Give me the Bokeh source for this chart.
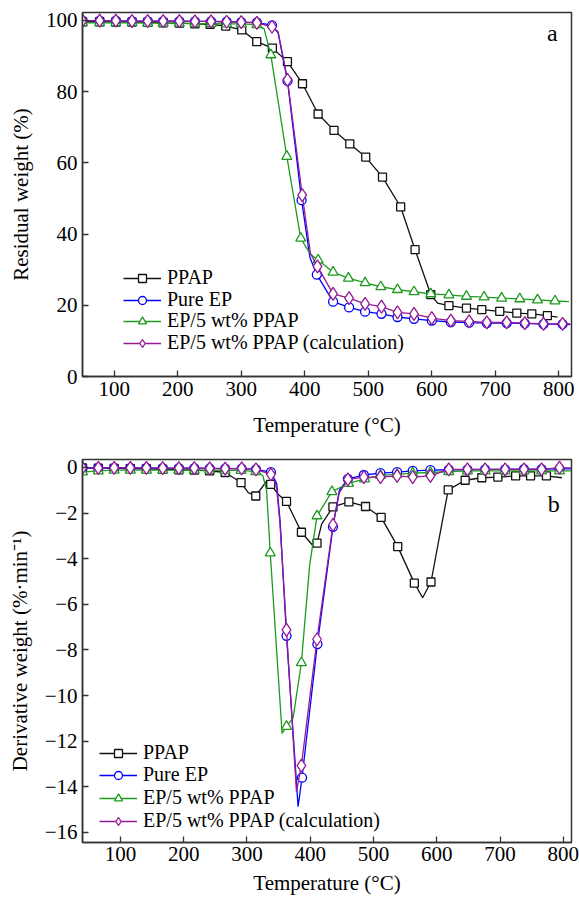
import numpy as np
from bokeh.plotting import figure
from bokeh.models import Range1d, FixedTicker, Legend, LegendItem, Label, CustomJSTickFormatter
from bokeh.layouts import column
from bokeh.embed import file_html
from bokeh.resources import INLINE

# ---------------- data: TGA (panel a) ----------------
tga_ppap_x = [50, 77, 102.5, 128, 152.6, 177, 202.5, 227, 251, 275.6, 300.8, 324.4, 349, 372.7, 396.4, 421, 446,
              470.9, 496, 522.4, 551, 573.7, 598.4, 627, 654.6, 678.7, 707, 733.9, 757.5, 782]
tga_ppap_y = [99.6, 99.6, 99.5, 99.5, 99.4, 99.3, 99.2, 99.0, 98.9, 98.4, 97.3, 94.0, 92.2, 88.4, 82.2, 73.7, 69.1,
              65.3, 61.6, 56.0, 47.6, 35.6, 23.0, 19.9, 19.2, 18.8, 18.3, 17.8, 17.6, 17.1]
tga_ppap_extra_x = [609, 798]
tga_ppap_extra_y = [20.6, 16.7]

tga_pure_x = [50, 77, 102.5, 128, 152.6, 177, 202.5, 227, 252.5, 277, 300, 324.6, 348.4, 372.8, 395, 419, 444.6,
              469.8, 495, 520.8, 546, 572, 600, 630, 658.8, 686.7, 718, 746.5, 775.9, 806]
tga_pure_y = [99.9, 99.9, 99.9, 99.8, 99.8, 99.8, 99.8, 99.7, 99.7, 99.6, 99.5, 99.4, 98.6, 83.0, 49.5, 28.6, 21.0,
              19.4, 18.2, 17.6, 16.7, 16.2, 15.7, 15.3, 15.1, 15.0, 15.0, 14.9, 14.7, 14.7]
tga_pure_extra_x = [358, 408, 818]
tga_pure_extra_y = [96.5, 33.5, 14.6]

tga_ep5_x = [50, 77, 102.5, 128, 152.6, 177, 202.5, 227, 252.5, 277, 300, 324.6, 346.5, 371.7, 393.7, 421, 444.6,
             468.8, 495, 519.7, 546, 572, 598.4, 627, 654.6, 682.4, 710, 738.6, 766.5, 794]
tga_ep5_y = [99.3, 99.3, 99.3, 99.3, 99.2, 99.2, 99.2, 99.1, 99.1, 99.0, 99.0, 98.8, 90.3, 61.8, 38.8, 32.7, 29.3,
             27.6, 26.3, 25.2, 24.4, 23.8, 23.2, 22.9, 22.5, 22.3, 22.0, 21.8, 21.5, 21.2]
tga_ep5_extra_x = [336, 409, 816]
tga_ep5_extra_y = [97.6, 34.3, 21.0]

tga_calc_x = [50, 77, 102.5, 128, 152.6, 177, 202.5, 227, 252.5, 277, 300, 324.6, 348.4, 372.8, 396, 420, 444.6,
              469.8, 495, 520.8, 546, 572, 600, 630, 658.8, 686.7, 718, 746.5, 775.9, 806]
tga_calc_y = [99.9, 99.9, 99.9, 99.8, 99.8, 99.8, 99.8, 99.7, 99.7, 99.6, 99.5, 99.3, 98.2, 83.3, 50.9, 30.9, 23.2,
              22.0, 20.4, 19.6, 18.0, 17.6, 16.4, 15.7, 15.5, 15.2, 15.2, 15.0, 14.8, 14.8]
tga_calc_extra_x = [358, 409, 818]
tga_calc_extra_y = [96.8, 34.5, 14.8]

# ---------------- data: DTG (panel b) ----------------
dtg_ppap_x = [40, 65, 90, 115.6, 141, 166.8, 192.3, 216.7, 241, 265.5, 290.6, 313.9, 337.5, 362.5, 386.1, 410.7,
              435.9, 461.1, 487.4, 512.1, 538.3, 564.6, 590.9, 618.1, 644.9, 671.2, 696.6, 724.7, 748.3, 773.4]
dtg_ppap_y = [-0.02, -0.03, -0.04, -0.05, -0.06, -0.08, -0.1, -0.12, -0.15, -0.22, -0.66, -1.25, -0.74, -1.49,
              -2.84, -3.32, -1.73, -1.51, -1.71, -2.19, -3.47, -5.07, -5.02, -0.98, -0.56, -0.45, -0.42, -0.37,
              -0.37, -0.37]
dtg_ppap_extra_x = [302, 331, 350, 404.4, 418, 577.7, 798]
dtg_ppap_extra_y = [-1.1, -0.6, -1.2, -3.43, -2.48, -5.71, -0.45]

dtg_pure_x = [40, 65, 90, 115.6, 141, 166.8, 192.3, 216.7, 241, 265.5, 291.6, 314.2, 337.8, 362.5, 387, 411.3,
              435.9, 459.5, 484.7, 511, 537.3, 562, 590, 619, 648.5, 676.4, 708, 737.8, 765.7, 794]
dtg_pure_y = [-0.02, -0.02, -0.02, -0.02, -0.02, -0.03, -0.03, -0.03, -0.04, -0.05, -0.05, -0.08, -0.2, -7.38,
              -13.6, -7.74, -2.6, -0.5, -0.33, -0.25, -0.2, -0.15, -0.12, -0.1, -0.1, -0.08, -0.08, -0.07, -0.07,
              -0.06]
dtg_pure_extra_x = [347, 352.5, 380.8, 446, 812]
dtg_pure_extra_y = [-0.7, -2.4, -14.87, -1.0, -0.06]

dtg_ep5_x = [40, 65, 90, 115.6, 141, 166.8, 192.3, 216.7, 241, 265.5, 290.6, 313.9, 336.8, 362.5, 386, 410.7,
             434.3, 460.6, 486, 511, 537.3, 562, 590, 619, 648.5, 676.4, 708, 737.8, 765.7, 794]
dtg_ep5_y = [-0.2, -0.15, -0.12, -0.12, -0.12, -0.12, -0.12, -0.12, -0.12, -0.13, -0.13, -0.18, -3.75, -11.35,
             -8.56, -2.12, -1.06, -0.7, -0.5, -0.35, -0.3, -0.25, -0.22, -0.18, -0.15, -0.15, -0.15, -0.15, -0.15,
             -0.15]
dtg_ep5_extra_x = [325, 331, 355.5, 373, 399, 812]
dtg_ep5_extra_y = [-0.35, -1.0, -11.66, -10.98, -4.3, -0.15]

dtg_calc_x = [40, 65, 90, 115.6, 141, 166.8, 192.3, 216.7, 241, 265.5, 291.6, 314.2, 337.8, 362.5, 386, 410.7,
              435.9, 459.5, 484.7, 511, 537.3, 562, 590, 619, 648.5, 676.4, 708, 737.8, 765.7, 794]
dtg_calc_y = [-0.02, -0.02, -0.02, -0.02, -0.02, -0.03, -0.03, -0.03, -0.04, -0.05, -0.04, -0.08, -0.3, -7.12,
              -13.07, -7.53, -2.52, -0.52, -0.42, -0.42, -0.37, -0.42, -0.37, -0.08, -0.08, -0.08, -0.08, -0.08,
              -0.08, -0.01]
dtg_calc_extra_x = [346.5, 352, 378.2, 446, 812]
dtg_calc_extra_y = [-0.8, -2.4, -14.21, -1.1, -0.02]

series_labels = ["PPAP", "Pure EP", "EP/5 wt% PPAP", "EP/5 wt% PPAP (calculation)"]
x_ticks = [100, 200, 300, 400, 500, 600, 700, 800]
tga_ticks = [0, 20, 40, 60, 80, 100]
dtg_ticks = [0, -2, -4, -6, -8, -10, -12, -14, -16]

COLORS = ["#111111", "#0000ff", "#1e9a1e", "#951a95"]
FONT = "Liberation Serif"
AX = "#333333"


def merged(mx, my, ex, ey):
    xs = np.array(list(mx) + list(ex), dtype=float)
    ys = np.array(list(my) + list(ey), dtype=float)
    o = np.argsort(xs)
    return xs[o], ys[o]


def style(p, yticks, ylabel, xstand, xlabstand):
    p.xaxis.ticker = FixedTicker(ticks=x_ticks)
    p.yaxis.ticker = FixedTicker(ticks=yticks)
    p.yaxis.formatter = CustomJSTickFormatter(code="return tick < 0 ? '\u2212' + Math.abs(tick) : String(tick);")
    for ax in (p.xaxis[0], p.yaxis[0]):
        ax.major_tick_in = 6
        ax.major_tick_out = 0
        ax.minor_tick_in = 0
        ax.minor_tick_out = 0
        ax.axis_line_color = AX
        ax.axis_line_width = 1.5
        ax.major_tick_line_color = AX
        ax.major_tick_line_width = 1.3
        ax.major_label_text_font = FONT
        ax.major_label_text_font_size = "21px"
        ax.major_label_text_color = "black"
        ax.axis_label_text_font = FONT
        ax.axis_label_text_font_size = "21px"
        ax.axis_label_text_font_style = "normal"
        ax.axis_label_text_color = "black"
    p.xaxis.axis_label = "Temperature (°C)"
    p.yaxis.axis_label = ylabel
    p.yaxis.major_label_standoff = 5
    p.yaxis.axis_label_standoff = 10
    p.xaxis.major_label_standoff = xstand
    p.xaxis.axis_label_standoff = xlabstand
    p.xgrid.visible = False
    p.ygrid.visible = False
    p.outline_line_color = AX
    p.outline_line_width = 1.5
    p.background_fill_color = "white"
    p.border_fill_color = "white"


def add_series(p, data, sizes, leg_x, leg_ys):
    markers = ["square", "circle", "triangle", "diamond"]
    for i, (mx, my, ex, ey) in enumerate(data):
        lx, ly = merged(mx, my, ex, ey)
        lr = p.line(lx, ly, line_color=COLORS[i], line_width=1.3)
        sr = p.scatter(mx, my, marker=markers[i], size=sizes[i],
                       line_color=COLORS[i], fill_color="white", line_width=1.3)
        leg = Legend(items=[LegendItem(label=series_labels[i], renderers=[lr, sr])],
                     location=(leg_x, leg_ys[i]))
        leg.border_line_color = None
        leg.background_fill_alpha = 0
        leg.padding = 0
        leg.margin = 0
        leg.spacing = 0
        leg.label_height = 20
        leg.glyph_height = 20
        leg.glyph_width = 38
        leg.label_standoff = 6
        leg.label_text_font = FONT
        leg.label_text_font_size = "20px"
        leg.label_text_color = "black"
        p.add_layout(leg)


sizes = [8, 9, 10, 13]

# ---------------- panel a ----------------
p1 = figure(width=579, height=439, output_backend="svg", toolbar_location=None,
            x_range=Range1d(50, 820), y_range=Range1d(0, 102.2),
            min_border_left=82, min_border_right=8, min_border_top=12, min_border_bottom=62)
style(p1, tga_ticks, "Residual weight (%)", 5, 14)
add_series(p1, [(tga_ppap_x, tga_ppap_y, tga_ppap_extra_x, tga_ppap_extra_y),
                (tga_pure_x, tga_pure_y, tga_pure_extra_x, tga_pure_extra_y),
                (tga_ep5_x, tga_ep5_y, tga_ep5_extra_x, tga_ep5_extra_y),
                (tga_calc_x, tga_calc_y, tga_calc_extra_x, tga_calc_extra_y)], sizes, 41, [87, 65, 44, 22])
p1.add_layout(Label(x=790, y=96.4, text="a", text_align="center", text_baseline="middle",
                    text_font=FONT, text_font_size="24px", text_color="black"))

# ---------------- panel b ----------------
p2 = figure(width=579, height=458, output_backend="svg", toolbar_location=None,
            x_range=Range1d(40, 813), y_range=Range1d(-16.44, 0.35),
            min_border_left=82, min_border_right=6, min_border_top=20, min_border_bottom=53)
style(p2, dtg_ticks, "Derivative weight (%\u00b7min\u207b\u00b9)", 4, 7)
add_series(p2, [(dtg_ppap_x, dtg_ppap_y, dtg_ppap_extra_x, dtg_ppap_extra_y),
                (dtg_pure_x, dtg_pure_y, dtg_pure_extra_x, dtg_pure_extra_y),
                (dtg_ep5_x, dtg_ep5_y, dtg_ep5_extra_x, dtg_ep5_extra_y),
                (dtg_calc_x, dtg_calc_y, dtg_calc_extra_x, dtg_calc_extra_y)], sizes, 17, [78, 56, 33, 10])
p2.add_layout(Label(x=785, y=-1.6, text="b", text_align="center", text_baseline="middle",
                    text_font=FONT, text_font_size="24px", text_color="black"))

layout = column(p1, p2, spacing=0)
open("out.html", "w").write(file_html(layout, INLINE))
